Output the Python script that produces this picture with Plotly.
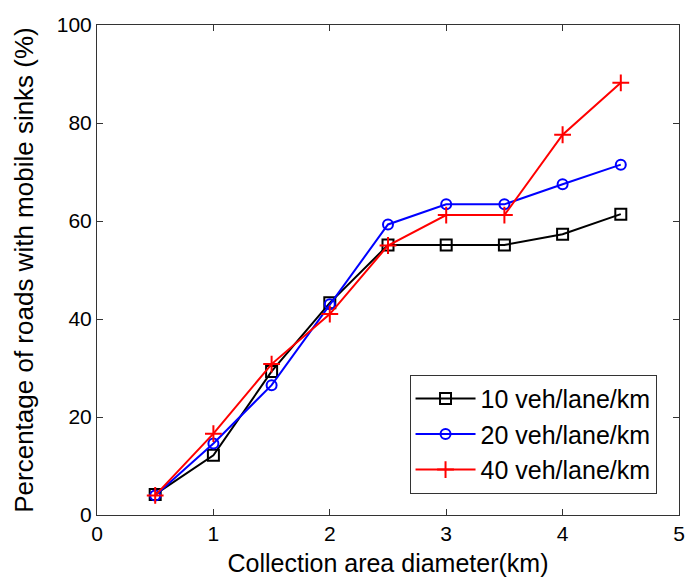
import plotly.graph_objects as go

diameter_km = [0.5, 1.0, 1.5, 2.0, 2.5, 3.0, 3.5, 4.0, 4.5]
density_10 = [4.2, 12.2, 29.3, 43.3, 55.1, 55.1, 55.1, 57.3, 61.4]
density_20 = [4.0, 14.6, 26.5, 43.0, 59.3, 63.4, 63.4, 67.5, 71.5]
density_40 = [4.0, 16.6, 30.8, 41.0, 55.0, 61.2, 61.2, 77.6, 88.2]

series = [
    ("10 veh/lane/km", density_10, "black", "square-open", 11),
    ("20 veh/lane/km", density_20, "blue", "circle-open", 10),
    ("40 veh/lane/km", density_40, "red", "cross-thin-open", 12),
]

fig = go.Figure()
for name, vals, color, symbol, size in series:
    fig.add_trace(go.Scatter(
        x=diameter_km, y=vals, name=name, mode="lines+markers",
        line=dict(color=color, width=2),
        marker=dict(symbol=symbol, size=size, color=color,
                    line=dict(color=color, width=2)),
    ))

axis_common = dict(
    showline=True, linecolor="#333333", linewidth=1, mirror="ticks",
    ticks="inside", ticklen=6, tickcolor="#333333", showgrid=False,
    zeroline=False, tickfont=dict(size=21, color="black"),
    ticklabeloverflow="allow",
)

fig.update_layout(
    width=688, height=581,
    margin=dict(l=97, r=3, t=25, b=66),
    paper_bgcolor="white", plot_bgcolor="white",
    font=dict(family="Liberation Sans, Arial, sans-serif", color="black"),
    xaxis=dict(range=[0, 5], dtick=1,
               title=dict(text="Collection area diameter(km)",
                          font=dict(size=25), standoff=10),
               **axis_common),
    yaxis=dict(range=[0, 100], dtick=20,
               title=dict(text="Percentage of roads with mobile sinks (%)",
                          font=dict(size=26), standoff=15),
               **axis_common),
    legend=dict(x=0.537, y=0.286, xanchor="left", yanchor="top",
                bgcolor="white", bordercolor="#333333", borderwidth=1,
                font=dict(size=25), itemwidth=60, tracegroupgap=2),
    showlegend=True,
)

fig.write_html("out.html")
